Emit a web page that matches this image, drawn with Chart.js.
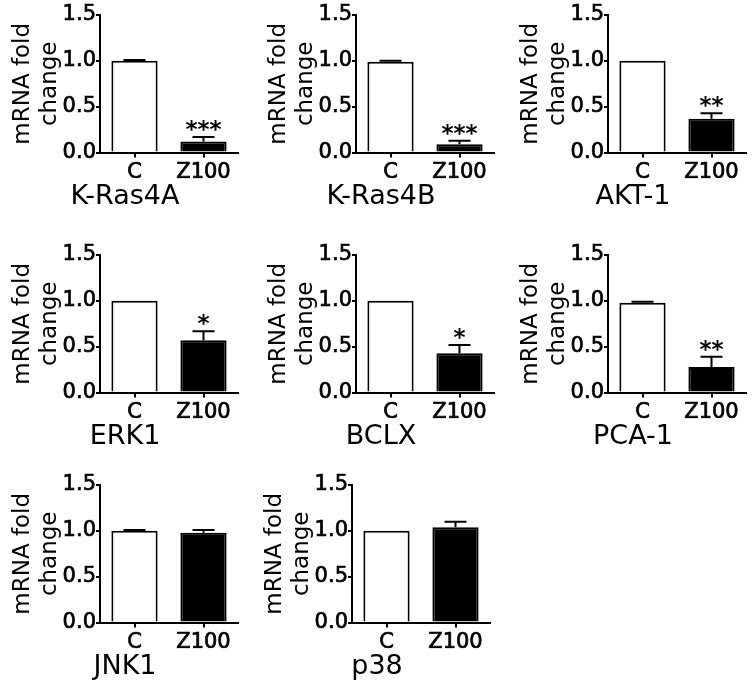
<!DOCTYPE html>
<html>
<head>
<meta charset="utf-8">
<script src="https://cdn.jsdelivr.net/npm/chart.js@4"></script>
<style>
  body { margin: 0; background: #fff; }
  #wrap { position: relative; width: 754px; height: 692px; overflow: hidden; }
  .panel { position: absolute; }
</style>
</head>
<body>
<div id="wrap"></div>
<script>
// data
var genes = ['K-Ras4A', 'K-Ras4B', 'AKT-1', 'ERK1', 'BCLX', 'PCA-1', 'JNK1', 'p38'];
var groups = ['C', 'Z100'];
var controlMeans = [1.0, 0.99, 1.0, 1.0, 1.0, 0.98, 1.0, 1.0];
var controlSem = [0.01, 0.01, 0, 0, 0, 0.01, 0.01, 0];
var z100Means = [0.12, 0.09, 0.37, 0.57, 0.43, 0.28, 0.98, 1.04];
var z100Sem = [0.05, 0.04, 0.06, 0.10, 0.09, 0.11, 0.03, 0.06];
var stars = ['***', '***', '**', '*', '*', '**', '', ''];
var yTicks = [0, 0.5, 1.0, 1.5];

// where each panel's y axis sits on the page
var axisLeft = [100, 356, 608, 100, 356, 608, 100, 352];
var axisTop = [15, 15, 15, 255, 255, 255, 485, 485];

Chart.defaults.font.family = 'DejaVu Sans';
Chart.defaults.color = '#000';

// error bars + significance stars, placed with the chart's own y scale
var errorBars = {
    id: 'errorBars',
    afterDatasetsDraw: function (chart, args, opts) {
        var ctx = chart.ctx;
        var y = chart.scales.y;
        var bars = chart.getDatasetMeta(0).data;
        ctx.save();
        ctx.strokeStyle = '#000';
        ctx.lineWidth = 2;
        bars.forEach(function (bar, j) {
            if (!opts.sems[j]) return;
            var top = y.getPixelForValue(opts.means[j] + opts.sems[j]);
            ctx.beginPath();
            ctx.moveTo(bar.x, bar.y);
            ctx.lineTo(bar.x, top);
            ctx.moveTo(bar.x - 11, top);
            ctx.lineTo(bar.x + 11, top);
            ctx.stroke();
        });
        if (opts.star) {
            var topZ = y.getPixelForValue(opts.means[1] + opts.sems[1]);
            ctx.fillStyle = '#000';
            ctx.font = 'bold 23px "DejaVu Sans"';
            ctx.textAlign = 'center';
            ctx.textBaseline = 'alphabetic';
            ctx.fillText(opts.star, bars[1].x, topZ);
        }
        ctx.restore();
    }
};

var wrap = document.getElementById('wrap');

genes.forEach(function (gene, i) {
    var div = document.createElement('div');
    div.className = 'panel';
    div.style.left = (axisLeft[i] - 100) + 'px';
    div.style.top = (axisTop[i] - 14) + 'px';
    var canvas = document.createElement('canvas');
    canvas.width = 245;
    canvas.height = 214;
    div.appendChild(canvas);
    wrap.appendChild(div);

    new Chart(canvas.getContext('2d'), {
        type: 'bar',
        data: {
            labels: groups,
            datasets: [{
                data: [controlMeans[i], z100Means[i]],
                backgroundColor: ['#ffffff', '#000000'],
                borderColor: '#000',
                borderWidth: 2,
                categoryPercentage: 1,
                barPercentage: 0.67
            }]
        },
        options: {
            responsive: false,
            animation: false,
            layout: { padding: { top: 14, right: 7, bottom: 0, left: 12 } },
            plugins: {
                legend: { display: false },
                tooltip: { enabled: false },
                title: {
                    display: true,
                    text: gene,
                    position: 'bottom',
                    color: '#000',
                    font: { size: 27, weight: 'normal' },
                    padding: { top: 2, bottom: 2 }
                },
                errorBars: {
                    means: [controlMeans[i], z100Means[i]],
                    sems: [controlSem[i], z100Sem[i]],
                    star: stars[i]
                }
            },
            scales: {
                x: {
                    grid: { drawOnChartArea: false, drawTicks: true, tickLength: 5, offset: false, color: '#000', lineWidth: 2 },
                    border: { color: '#000', width: 2 },
                    ticks: { color: '#000', font: { size: 21 }, padding: 2, maxRotation: 0, textStrokeColor: '#000', textStrokeWidth: 0.7 },
                    afterFit: function (s) { s.height = 26; }
                },
                y: {
                    min: 0,
                    max: 1.5,
                    afterBuildTicks: function (s) {
                        s.ticks = yTicks.map(function (v) { return { value: v }; });
                    },
                    ticks: {
                        color: '#000',
                        font: { size: 21 },
                        padding: 0,
                        textStrokeColor: '#000',
                        textStrokeWidth: 0.7,
                        callback: function (v) { return Number(v).toFixed(1); }
                    },
                    grid: { drawOnChartArea: false, tickLength: 4, color: '#000', lineWidth: 2 },
                    border: { color: '#000', width: 2 },
                    title: {
                        display: true,
                        text: ['mRNA fold', 'change'],
                        color: '#000',
                        font: { size: 23 },
                        padding: { top: -3, bottom: 0 }
                    },
                    afterFit: function (s) { s.width = 88; }
                }
            }
        },
        plugins: [errorBars]
    });
});
</script>
</body>
</html>
